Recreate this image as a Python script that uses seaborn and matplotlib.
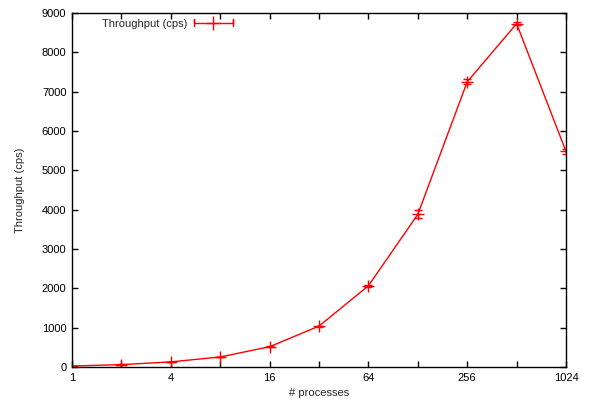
import matplotlib
matplotlib.use("Agg")
import matplotlib.pyplot as plt
import seaborn as sns
import pandas as pd
from matplotlib.lines import Line2D
from matplotlib.legend_handler import HandlerBase
from matplotlib.ticker import FixedLocator, NullLocator, FixedFormatter

processes = [1, 2, 4, 8, 16, 32, 64, 128, 256, 512, 1024]
throughput = [25, 60, 130, 255, 515, 1040, 2065, 3880, 7250, 8730, 5480]
errors = [3, 4, 5, 8, 10, 15, 25, 100, 65, 30, 60]
xtick_vals = [1, 4, 16, 64, 256, 1024]
ytick_vals = [0, 1000, 2000, 3000, 4000, 5000, 6000, 7000, 8000, 9000]

sns.set_style("ticks")
plt.rcParams['font.family'] = ['Liberation Sans', 'DejaVu Sans']
plt.rcParams['font.size'] = 8

df = pd.DataFrame({"processes": processes, "throughput": throughput})

fig = plt.figure(figsize=(5.91, 4.08), dpi=100)
ax = fig.add_axes([0.1218, 0.1005, 0.8359, 0.8676])

sns.lineplot(data=df, x="processes", y="throughput", ax=ax, color="red",
             linewidth=1.0, marker="+", markersize=9, markeredgewidth=1.0,
             markeredgecolor="red", legend=False)
ax.errorbar(processes, throughput, yerr=errors, fmt="none", ecolor="red",
            elinewidth=1.0, capsize=2.7, capthick=1.0)

ax.set_xscale("log", base=2)
ax.set_xlim(1, 1024)
ax.set_ylim(0, 9000)
ax.xaxis.set_major_locator(FixedLocator(processes))
ax.xaxis.set_major_formatter(FixedFormatter([str(p) if p in xtick_vals else "" for p in processes]))
ax.xaxis.set_minor_locator(NullLocator())
ax.set_yticks(ytick_vals)
ax.set_yticklabels([str(v) for v in ytick_vals])

for s in ax.spines.values():
    s.set_visible(True)
    s.set_linewidth(1.0)
    s.set_color("black")
ax.tick_params(direction="in", length=4, width=1.0, top=True, right=True,
               labelsize=8, pad=4, colors="black")

ax.set_xlabel("# processes", fontsize=8, labelpad=4)
ax.set_ylabel("Throughput (cps)", fontsize=8, labelpad=12)


class ErrHandler(HandlerBase):
    def create_artists(self, legend, orig_handle, xdescent, ydescent, width,
                       height, fontsize, trans):
        y = height / 2 - ydescent
        x0, x1 = -xdescent, -xdescent + width
        arts = [Line2D([x0, x0, x0, x1, x1, x1], [y - 2.5, y + 2.5, y, y, y + 2.5, y - 2.5],
                       color="red", lw=1.0),
                Line2D([(x0 + x1) / 2], [y], color="red", marker="+",
                       markersize=10, markeredgewidth=1.0, lw=0)]
        for a in arts:
            a.set_transform(trans)
        return arts


h = Line2D([], [], color="red")
ax.legend([h], ["Throughput (cps)"], handler_map={h: ErrHandler()},
          loc="upper left", bbox_to_anchor=(0.045, 1.006), frameon=False,
          markerfirst=False, handlelength=3.5, handletextpad=0.6, fontsize=8,
          borderaxespad=0.3)

fig.savefig("out.png", dpi=100)
